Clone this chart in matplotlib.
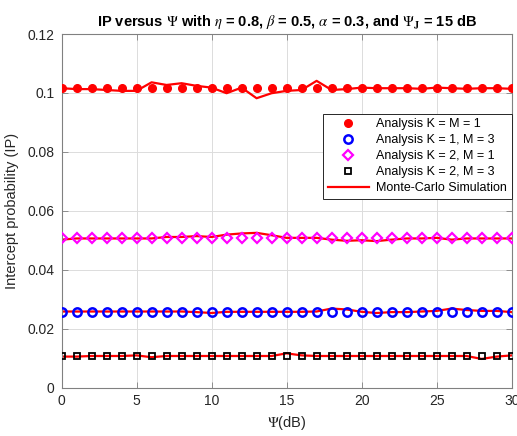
import matplotlib
matplotlib.use("Agg")
import matplotlib.pyplot as plt
from matplotlib.lines import Line2D

plt.rcParams['font.family'] = ['Liberation Sans', 'DejaVu Sans']
plt.rcParams['mathtext.fontset'] = 'stix'

# Transmit SNR Psi (dB)
psi_db = list(range(0, 31))

# Analytical intercept probability
ip_k1_m1 = [0.1016, 0.1016, 0.1016, 0.1016, 0.1016, 0.1016, 0.1016, 0.1016, 0.1016, 0.1016,
            0.1016, 0.1016, 0.1016, 0.1016, 0.1016, 0.1016, 0.1016, 0.1016, 0.1016, 0.1016,
            0.1016, 0.1016, 0.1016, 0.1016, 0.1016, 0.1016, 0.1016, 0.1016, 0.1016, 0.1016,
            0.1016]
ip_k1_m3 = [0.0258, 0.0258, 0.0258, 0.0258, 0.0258, 0.0258, 0.0258, 0.0258, 0.0258, 0.0258,
            0.0258, 0.0258, 0.0258, 0.0258, 0.0258, 0.0258, 0.0258, 0.0258, 0.0258, 0.0258,
            0.0258, 0.0258, 0.0258, 0.0258, 0.0258, 0.0258, 0.0258, 0.0258, 0.0258, 0.0258,
            0.0258]
ip_k2_m1 = [0.0508, 0.0508, 0.0508, 0.0508, 0.0508, 0.0508, 0.0508, 0.0508, 0.0508, 0.0508,
            0.0508, 0.0508, 0.0508, 0.0508, 0.0508, 0.0508, 0.0508, 0.0508, 0.0508, 0.0508,
            0.0508, 0.0508, 0.0508, 0.0508, 0.0508, 0.0508, 0.0508, 0.0508, 0.0508, 0.0508,
            0.0508]
ip_k2_m3 = [0.0107, 0.0107, 0.0107, 0.0107, 0.0107, 0.0107, 0.0107, 0.0107, 0.0107, 0.0107,
            0.0107, 0.0107, 0.0107, 0.0107, 0.0107, 0.0107, 0.0107, 0.0107, 0.0107, 0.0107,
            0.0107, 0.0107, 0.0107, 0.0107, 0.0107, 0.0107, 0.0107, 0.0107, 0.0107, 0.0107,
            0.0107]

# Monte-Carlo simulated intercept probability
sim_k1_m1 = [0.1016, 0.1013, 0.1013, 0.1010, 0.1007, 0.1007, 0.1036, 0.1027, 0.1033, 0.1024,
             0.1018, 0.0999, 0.1018, 0.0982, 0.0999, 0.1007, 0.1010, 0.1041, 0.1010, 0.1013,
             0.1018, 0.1016, 0.1016, 0.1016, 0.1014, 0.1018, 0.1016, 0.1014, 0.1016, 0.1016,
             0.1014]
sim_k1_m3 = [0.0258, 0.0258, 0.0258, 0.0258, 0.0258, 0.0258, 0.0258, 0.0258, 0.0258, 0.0256,
             0.0253, 0.0257, 0.0257, 0.0257, 0.0257, 0.0257, 0.0257, 0.0258, 0.0268, 0.0265,
             0.0257, 0.0253, 0.0256, 0.0256, 0.0258, 0.0260, 0.0268, 0.0263, 0.0260, 0.0260,
             0.0256]
sim_k2_m1 = [0.0502, 0.0506, 0.0506, 0.0506, 0.0506, 0.0506, 0.0506, 0.0511, 0.0511, 0.0514,
             0.0511, 0.0519, 0.0523, 0.0525, 0.0517, 0.0508, 0.0508, 0.0508, 0.0502, 0.0498,
             0.0500, 0.0497, 0.0502, 0.0506, 0.0506, 0.0508, 0.0502, 0.0506, 0.0506, 0.0506,
             0.0506]
sim_k2_m3 = [0.0105, 0.0105, 0.0107, 0.0107, 0.0107, 0.0109, 0.0103, 0.0107, 0.0107, 0.0107,
             0.0107, 0.0107, 0.0107, 0.0107, 0.0107, 0.0116, 0.0109, 0.0107, 0.0107, 0.0107,
             0.0107, 0.0107, 0.0107, 0.0107, 0.0107, 0.0107, 0.0107, 0.0107, 0.0097, 0.0105,
             0.0109]

legend_labels = ['Analysis K = M = 1', 'Analysis K = 1, M = 3', 'Analysis K = 2, M = 1',
                 'Analysis K = 2, M = 3', 'Monte-Carlo Simulation']

fig = plt.figure(figsize=(5.17, 4.36), dpi=100)
ax = fig.add_axes([0.119, 0.1112, 0.8707, 0.8108])

for sim in (sim_k1_m1, sim_k1_m3, sim_k2_m1, sim_k2_m3):
    ax.plot(psi_db, sim, color='red', lw=1.6, zorder=2)

h1, = ax.plot(psi_db, ip_k1_m1, ls='none', marker='o', ms=5.5, color='red',
              mec='red', zorder=3)
h2, = ax.plot(psi_db, ip_k1_m3, ls='none', marker='o', ms=6, mfc='none',
              mec='blue', mew=1.8, zorder=3)
h3, = ax.plot(psi_db, ip_k2_m1, ls='none', marker='D', ms=5.5, mfc='none',
              mec='magenta', mew=1.6, zorder=3)
h4, = ax.plot(psi_db, ip_k2_m3, ls='none', marker='s', ms=4, mfc='none',
              mec='black', mew=1.3, zorder=3)
h5 = Line2D([], [], color='red', lw=1.6)

ax.set_xlim(0, 30)
ax.set_ylim(0, 0.12)
ax.set_xticks([0, 5, 10, 15, 20, 25, 30])
ax.set_yticks([0, 0.02, 0.04, 0.06, 0.08, 0.1, 0.12])
ax.set_yticklabels(['0', '0.02', '0.04', '0.06', '0.08', '0.1', '0.12'])

ax.grid(True, color='#dcdcdc', lw=0.7)
ax.set_axisbelow(True)
for s in ax.spines.values():
    s.set_color('#808080')
    s.set_linewidth(0.8)
ax.tick_params(direction='in', top=True, right=True, length=4, width=0.6,
               color='#808080', labelsize=10, labelcolor='#262626', pad=5)

ax.set_xlabel(r'$\Psi$(dB)', fontsize=10.5, color='#262626', labelpad=4)
ax.set_ylabel('Intercept probability (IP)', fontsize=10.5, color='#262626', labelpad=6)
ax.set_title(r'IP versus $\Psi$ with $\eta$ = 0.8, $\beta$ = 0.5, $\alpha$ = 0.3, and $\Psi_{\mathbf{J}}$ = 15 dB',
             fontsize=10.5, fontweight='bold', pad=6)

leg = ax.legend([h1, h2, h3, h4, h5], legend_labels, loc='upper right',
                bbox_to_anchor=(1.0, 0.774), fontsize=9, frameon=True,
                fancybox=False, framealpha=1, edgecolor='#262626',
                borderpad=0.35, labelspacing=0.32, handlelength=3.3,
                handletextpad=0.6, borderaxespad=0.0)
leg.get_frame().set_linewidth(0.7)

fig.savefig('out.png', dpi=100)
